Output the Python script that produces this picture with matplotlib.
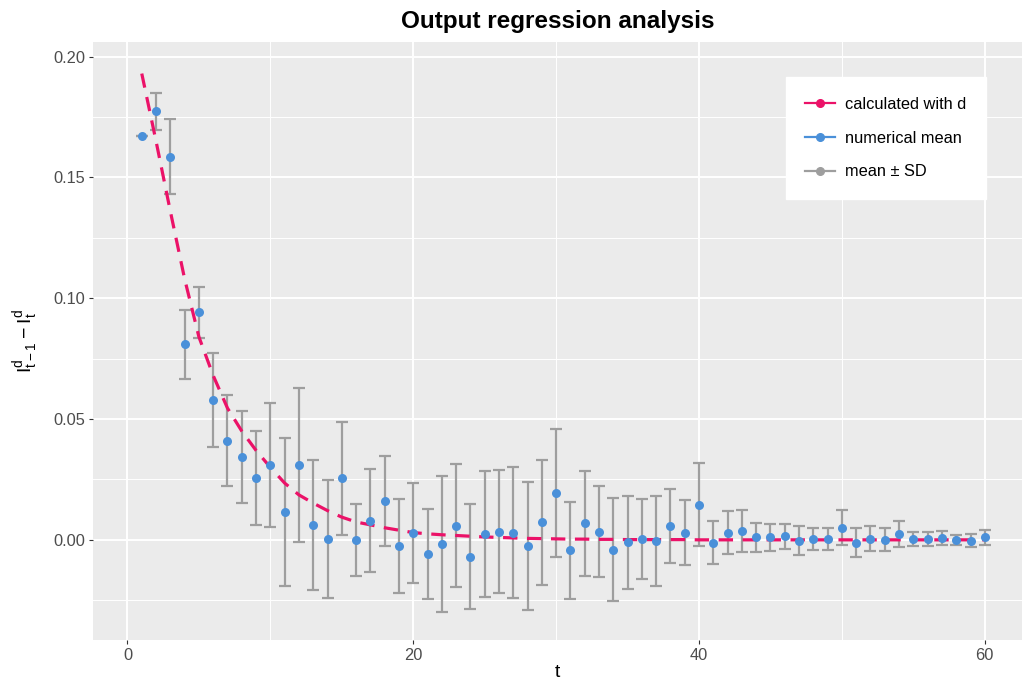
import numpy as np
import matplotlib.pyplot as plt
from matplotlib.lines import Line2D

plt.rcParams['font.family'] = ['Liberation Sans', 'DejaVu Sans']

t = list(range(1, 61))

calc_d = [0.193, 0.165, 0.136, 0.108, 0.084, 0.068, 0.0545, 0.045, 0.037, 0.030,
          0.0235, 0.0186, 0.0152, 0.0121, 0.0094, 0.0074, 0.0062, 0.0050, 0.0040, 0.0030,
          0.0025, 0.0021, 0.0018, 0.0015, 0.0012, 0.0010, 0.0008, 0.0006, 0.0005, 0.0004,
          0.0003, 0.0003, 0.0002, 0.0002, 0.0001, 0.0001, 0.0001, 0.0001, 0.0001, 0.0,
          0.0, 0.0, 0.0, 0.0, 0.0, 0.0, 0.0, 0.0, 0.0, 0.0,
          0.0, 0.0, 0.0, 0.0, 0.0, 0.0, 0.0, 0.0, 0.0, 0.0]

mean = [0.1672, 0.1774, 0.1586, 0.0809, 0.0941, 0.0580, 0.0410, 0.0342, 0.0257, 0.0309,
        0.0116, 0.0309, 0.0062, 0.0004, 0.0254, -0.0001, 0.0079, 0.0160, -0.0025, 0.0028,
        -0.0058, -0.0017, 0.0058, -0.0069, 0.0025, 0.0034, 0.0030, -0.0025, 0.0072, 0.0193,
        -0.0043, 0.0069, 0.0034, -0.0040, -0.0010, 0.0003, -0.0004, 0.0057, 0.0030, 0.0146,
        -0.0011, 0.0030, 0.0037, 0.0010, 0.0010, 0.0014, -0.0004, 0.0003, 0.0003, 0.0051,
        -0.0011, 0.0005, 0.0000, 0.0024, 0.0004, 0.0003, 0.0007, 0.0000, -0.0003, 0.0010]

sd = [0.0, 0.0076, 0.0156, 0.0142, 0.0104, 0.0194, 0.0189, 0.0190, 0.0195, 0.0257,
      0.0305, 0.0319, 0.0269, 0.0244, 0.0233, 0.0150, 0.0213, 0.0185, 0.0196, 0.0206,
      0.0187, 0.0283, 0.0255, 0.0219, 0.0262, 0.0256, 0.0270, 0.0264, 0.0260, 0.0266,
      0.0200, 0.0218, 0.0189, 0.0214, 0.0192, 0.0165, 0.0187, 0.0154, 0.0135, 0.0170,
      0.0088, 0.0088, 0.0088, 0.0060, 0.0057, 0.0053, 0.0060, 0.0046, 0.0047, 0.0071,
      0.0059, 0.0053, 0.0047, 0.0053, 0.0030, 0.0028, 0.0030, 0.0021, 0.0026, 0.0031]

pink = '#EB1268'
blue = '#4A90D9'
grey = '#9E9E9E'

fig = plt.figure(figsize=(10.24, 6.91), dpi=100)
ax = fig.add_axes([0.091, 0.074, 0.907, 0.865])
ax.set_facecolor('#EBEBEB')
for s in ax.spines.values():
    s.set_visible(False)

ax.set_xlim(-2.4, 62.6)
ax.set_ylim(-0.0414, 0.206)
ax.set_xticks([0, 20, 40, 60])
ax.set_xticks([10, 30, 50], minor=True)
ax.set_yticks([0.0, 0.05, 0.10, 0.15, 0.20])
ax.set_yticks([-0.025, 0.025, 0.075, 0.125, 0.175], minor=True)
ax.set_yticklabels(['0.00', '0.05', '0.10', '0.15', '0.20'])
ax.grid(which='major', color='white', linewidth=1.4)
ax.grid(which='minor', color='white', linewidth=0.7)
ax.set_axisbelow(True)
ax.tick_params(which='major', length=3, color='#333333', labelcolor='#4D4D4D',
               labelsize=11.8, pad=2.5)
ax.tick_params(which='minor', length=0)

ax.errorbar(t, mean, yerr=sd, fmt='none', ecolor=grey, elinewidth=1.6,
            capsize=4.3, capthick=1.6, zorder=2)
ax.plot(t, calc_d, color=pink, linewidth=2.3, linestyle=(0, (4.5, 3)), zorder=3)
ax.plot(t, mean, 'o', color=blue, markersize=6.5, markeredgewidth=0, zorder=4)

ax.set_title('Output regression analysis', fontsize=17.5, fontweight='bold', pad=10)
ax.set_xlabel('t', fontsize=14, labelpad=1)
ax.set_ylabel(r'$\mathregular{I_{t-1}^{d} - I_{t}^{d}}$', fontsize=14, labelpad=10)

handles = [Line2D([], [], color=pink, marker='o', markersize=5.5, linewidth=1.6),
           Line2D([], [], color=blue, marker='o', markersize=5.5, linewidth=1.6),
           Line2D([], [], color=grey, marker='o', markersize=5.5, linewidth=1.6)]
labels = ['calculated with d', 'numerical mean', 'mean \u00b1 SD']
leg = ax.legend(handles, labels, loc='upper right', bbox_to_anchor=(0.961, 0.9415),
                borderaxespad=0, frameon=True, fancybox=False, framealpha=1,
                fontsize=11.8, handlelength=1.8, handletextpad=0.6, borderpad=1.2,
                labelspacing=1.15)
leg.get_frame().set_facecolor('white')
leg.get_frame().set_edgecolor('white')

fig.savefig('out.png', dpi=100)
